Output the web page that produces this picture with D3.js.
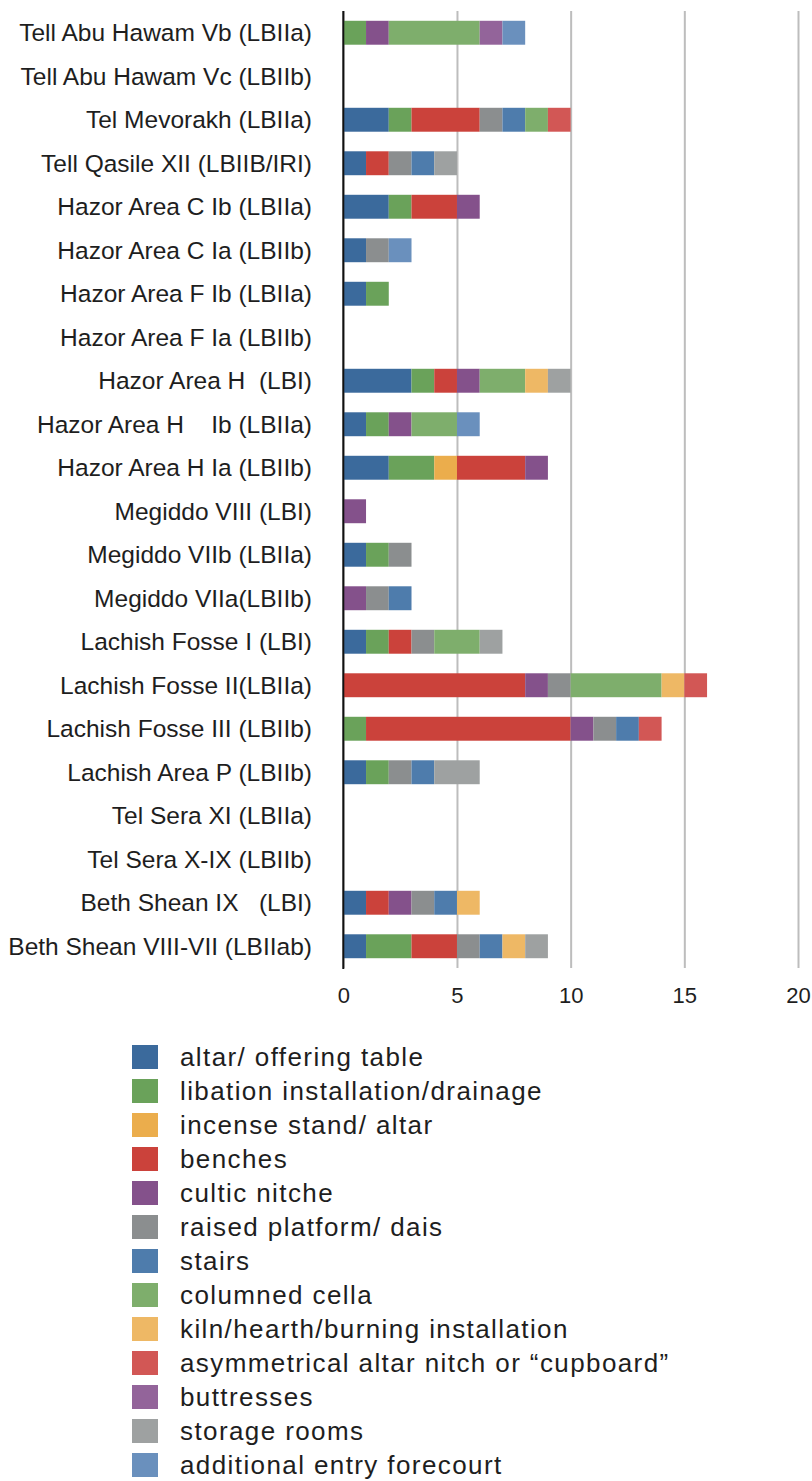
<!DOCTYPE html>
<html>
<head>
<meta charset="utf-8">
<script src="https://cdn.jsdelivr.net/npm/d3@7"></script>
<style>
  html, body { margin: 0; padding: 0; background: #fff; }
  svg { display: block; }
  text { font-family: "Liberation Sans", Arial, Helvetica, sans-serif; fill: #1e1e1e; white-space: pre; }
</style>
</head>
<body>
<svg id="chart" width="812" height="1481"></svg>
<script>
// ---------- DATA ----------
const categories = [
  "Tell Abu Hawam Vb (LBIIa)",
  "Tell Abu Hawam Vc (LBIIb)",
  "Tel Mevorakh (LBIIa)",
  "Tell Qasile XII (LBIIB/IRI)",
  "Hazor Area C Ib (LBIIa)",
  "Hazor Area C Ia (LBIIb)",
  "Hazor Area F Ib (LBIIa)",
  "Hazor Area F Ia (LBIIb)",
  "Hazor Area H  (LBI)",
  "Hazor Area H    Ib (LBIIa)",
  "Hazor Area H Ia (LBIIb)",
  "Megiddo VIII (LBI)",
  "Megiddo VIIb (LBIIa)",
  "Megiddo VIIa(LBIIb)",
  "Lachish Fosse I (LBI)",
  "Lachish Fosse II(LBIIa)",
  "Lachish Fosse III (LBIIb)",
  "Lachish Area P (LBIIb)",
  "Tel Sera XI (LBIIa)",
  "Tel Sera X-IX (LBIIb)",
  "Beth Shean IX   (LBI)",
  "Beth Shean VIII-VII (LBIIab)"
];

const seriesNames = [
  "altar/ offering table",
  "libation installation/drainage",
  "incense stand/ altar",
  "benches",
  "cultic nitche",
  "raised platform/ dais",
  "stairs",
  "columned cella",
  "kiln/hearth/burning installation",
  "asymmetrical altar nitch or \u201Ccupboard\u201D",
  "buttresses",
  "storage rooms",
  "additional entry forecourt"
];

const altar      = [0,0,2,1,2,1,1,0,3,1,2,0,1,0,1,0,0,1,0,0,1,1];
const libation   = [1,0,1,0,1,0,1,0,1,1,2,0,1,0,1,0,1,1,0,0,0,2];
const incense    = [0,0,0,0,0,0,0,0,0,0,1,0,0,0,0,0,0,0,0,0,0,0];
const benches    = [0,0,3,1,2,0,0,0,1,0,3,0,0,0,1,8,9,0,0,0,1,2];
const cultic     = [1,0,0,0,1,0,0,0,1,1,1,1,0,1,0,1,1,0,0,0,1,0];
const raised     = [0,0,1,1,0,1,0,0,0,0,0,0,1,1,1,1,1,1,0,0,1,1];
const stairs     = [0,0,1,1,0,0,0,0,0,0,0,0,0,1,0,0,1,1,0,0,1,1];
const columned   = [4,0,1,0,0,0,0,0,2,2,0,0,0,0,2,4,0,0,0,0,0,0];
const kiln       = [0,0,0,0,0,0,0,0,1,0,0,0,0,0,0,1,0,0,0,0,1,1];
const asymNitch  = [0,0,1,0,0,0,0,0,0,0,0,0,0,0,0,1,1,0,0,0,0,0];
const buttresses = [1,0,0,0,0,0,0,0,0,0,0,0,0,0,0,0,0,0,0,0,0,0];
const storage    = [0,0,0,1,0,0,0,0,1,0,0,0,0,0,1,0,0,2,0,0,0,1];
const additional = [1,0,0,0,0,1,0,0,0,1,0,0,0,0,0,0,0,0,0,0,0,0];

const xTicks = [0, 5, 10, 15, 20];

const colors = [
  "#3b6a9c", "#6aa25a", "#ebad4c", "#cb423b", "#84518b", "#8b8e8f",
  "#4e7cac", "#7eae6c", "#eeb865", "#d25755", "#93649a", "#9ea1a1", "#6a90bd"
];

// ---------- BUILD TABLE ----------
const seriesValues = [altar, libation, incense, benches, cultic, raised, stairs,
  columned, kiln, asymNitch, buttresses, storage, additional];
const table = categories.map((c, i) => {
  const row = { cat: c };
  seriesNames.forEach((s, k) => { row[s] = seriesValues[k][i]; });
  return row;
});

// ---------- LAYOUT ----------
const svg = d3.select("#chart");
const plotTop = 11, plotBottom = 968;
const x = d3.scaleLinear().domain([0, 20]).range([343.3, 798]);
const y = d3.scaleBand().domain(categories).range([plotTop, plotBottom])
  .paddingInner(0.45).paddingOuter(0.225);
const color = d3.scaleOrdinal().domain(seriesNames).range(colors);

// gridlines + ticks
const axis = d3.axisBottom(x).tickValues(xTicks).tickSize(-(plotBottom - plotTop)).tickPadding(0)
  .tickFormat(d3.format("d"));
const gAxis = svg.append("g").attr("transform", `translate(0,${plotBottom})`).call(axis);
gAxis.select(".domain").remove();
gAxis.selectAll(".tick line").attr("stroke", "#bdbdbd").attr("stroke-width", 2);
gAxis.selectAll(".tick text")
  .attr("y", 27).attr("dy", "0.35em")
  .style("font-size", "22px").style("font-family", "'Liberation Sans', Arial, sans-serif")
  .attr("fill", "#1e1e1e");

// stacked bars
const stacked = d3.stack().keys(seriesNames)(table);
svg.append("g").selectAll("g").data(stacked).join("g")
  .attr("fill", d => color(d.key))
  .selectAll("rect").data(d => d).join("rect")
  .attr("x", d => x(d[0]))
  .attr("y", d => y(d.data.cat))
  .attr("width", d => x(d[1]) - x(d[0]))
  .attr("height", y.bandwidth());

// zero line
svg.append("line")
  .attr("x1", x(0)).attr("x2", x(0))
  .attr("y1", plotTop).attr("y2", plotBottom + 1)
  .attr("stroke", "#111").attr("stroke-width", 2);

// category labels
svg.append("g").selectAll("text").data(categories).join("text")
  .attr("x", 312)
  .attr("y", d => y(d) + y.bandwidth() / 2)
  .attr("dy", "0.35em")
  .attr("text-anchor", "end")
  .style("font-size", "24.5px")
  .text(d => d);

// legend
const legend = svg.append("g");
const lg = legend.selectAll("g").data(seriesNames).join("g")
  .attr("transform", (d, i) => `translate(0,${1057 + i * 34})`);
lg.append("rect").attr("x", 132).attr("y", -12).attr("width", 26).attr("height", 24)
  .attr("fill", d => color(d));
lg.append("text").attr("x", 180).attr("y", 0).attr("dy", "0.35em")
  .style("font-size", "26px").style("letter-spacing", "1.4px")
  .text(d => d);
</script>
</body>
</html>
